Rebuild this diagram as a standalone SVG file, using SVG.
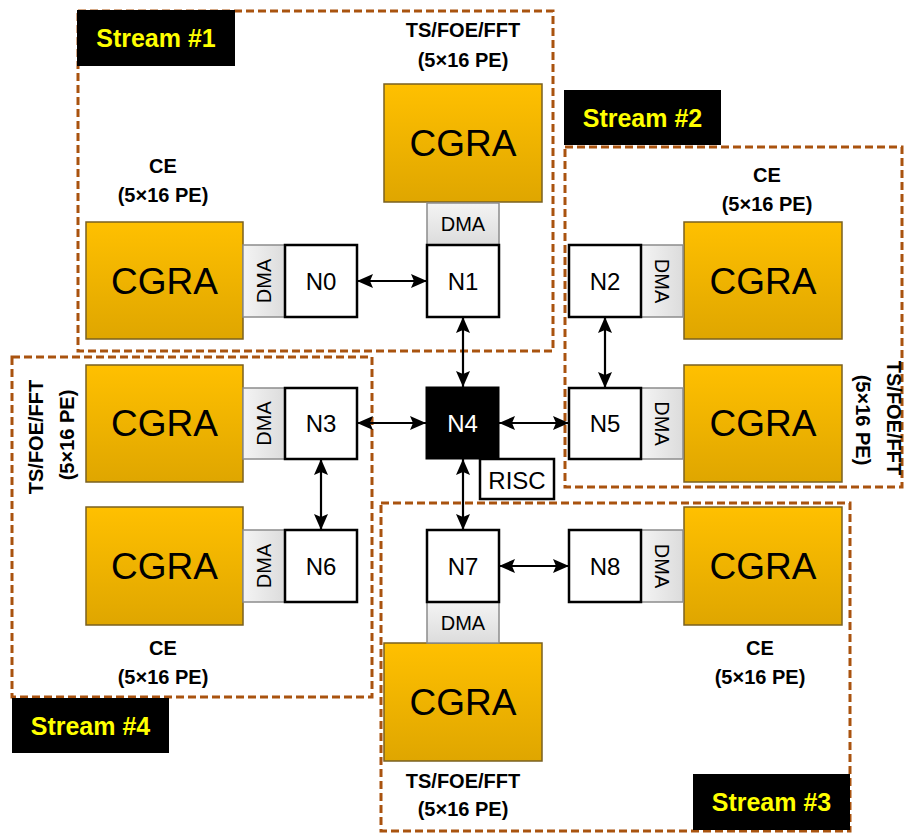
<svg xmlns="http://www.w3.org/2000/svg" width="906" height="834" viewBox="0 0 906 834">
<defs>
<linearGradient id="gold" x1="0" y1="0" x2="0" y2="1">
<stop offset="0" stop-color="#FFC000"/>
<stop offset="1" stop-color="#DFA600"/>
</linearGradient>
<linearGradient id="dmaV" x1="0" y1="0" x2="0" y2="1">
<stop offset="0" stop-color="#F4F4F4"/>
<stop offset="1" stop-color="#DCDCDC"/>
</linearGradient>
<linearGradient id="dmaH" x1="0" y1="0" x2="1" y2="0">
<stop offset="0" stop-color="#F4F4F4"/>
<stop offset="1" stop-color="#DCDCDC"/>
</linearGradient>
<marker id="ah" viewBox="0 0 16 14" refX="16" refY="7" markerWidth="16" markerHeight="14" markerUnits="userSpaceOnUse" orient="auto-start-reverse">
<path d="M0,0 L16,7 L0,14 L3,7 Z" fill="#000"/>
</marker>
</defs>
<style>
.stream{fill:none;stroke:#A9530F;stroke-width:3;stroke-dasharray:8 4}
.lbl rect{fill:#000}
.lbl text{fill:#FFFF00;font-family:"Liberation Sans",Arial,sans-serif;font-weight:bold;font-size:25px;text-anchor:middle;dominant-baseline:central}
.cgra rect{fill:url(#gold);stroke:#7A6020;stroke-width:1.5}
.cgra text{font-family:"Liberation Sans",Arial,sans-serif;font-size:37px;text-anchor:middle;dominant-baseline:central;fill:#000}
.dma rect{stroke:#8C8C8C;stroke-width:1.5}
.dma text{font-family:"Liberation Sans",Arial,sans-serif;font-size:20px;text-anchor:middle;dominant-baseline:central;fill:#000}
.node rect{fill:#fff;stroke:#000;stroke-width:2.5}
.node text{font-family:"Liberation Sans",Arial,sans-serif;font-size:24px;text-anchor:middle;dominant-baseline:central;fill:#000}
.cap{font-family:"Liberation Sans",Arial,sans-serif;font-weight:bold;font-size:20px;text-anchor:middle;dominant-baseline:central;fill:#000}
.conn line{stroke:#000;stroke-width:2.2;marker-start:url(#ah);marker-end:url(#ah)}
</style>
<rect width="906" height="834" fill="#fff"/>

<!-- stream boundaries -->
<g id="streams">
<rect class="stream" x="78" y="11" width="475" height="340"/>
<rect class="stream" x="565" y="147" width="337" height="340"/>
<rect class="stream" x="12" y="357" width="360" height="340"/>
<rect class="stream" x="381" y="503" width="469" height="328"/>
</g>

<!-- CGRA blocks -->
<g id="cgra0" class="cgra"><rect x="86" y="222" width="157" height="117"/><text x="164.5" y="281">CGRA</text></g>
<g id="cgra1" class="cgra"><rect x="384" y="84" width="158" height="118"/><text x="463" y="143">CGRA</text></g>
<g id="cgra2" class="cgra"><rect x="684" y="222" width="158" height="117"/><text x="763" y="281">CGRA</text></g>
<g id="cgra5" class="cgra"><rect x="684" y="365" width="158" height="117"/><text x="763" y="423">CGRA</text></g>
<g id="cgra3" class="cgra"><rect x="86" y="365" width="157" height="117"/><text x="164.5" y="423">CGRA</text></g>
<g id="cgra6" class="cgra"><rect x="86" y="507" width="157" height="118"/><text x="164.5" y="566">CGRA</text></g>
<g id="cgra8" class="cgra"><rect x="684" y="507" width="158" height="118"/><text x="763" y="566">CGRA</text></g>
<g id="cgra7" class="cgra"><rect x="384" y="643" width="158" height="118"/><text x="463" y="702">CGRA</text></g>

<!-- DMA blocks -->
<g id="dma0" class="dma"><rect x="243" y="245" width="42" height="72" fill="url(#dmaH)"/><text transform="translate(264,281) rotate(-90)">DMA</text></g>
<g id="dma1" class="dma"><rect x="427" y="203" width="72" height="42" fill="url(#dmaV)"/><text x="463" y="224">DMA</text></g>
<g id="dma2" class="dma"><rect x="641" y="245" width="42" height="72" fill="url(#dmaH)"/><text transform="translate(662,281) rotate(90)">DMA</text></g>
<g id="dma5" class="dma"><rect x="641" y="388" width="42" height="71" fill="url(#dmaH)"/><text transform="translate(662,423.5) rotate(90)">DMA</text></g>
<g id="dma3" class="dma"><rect x="243" y="388" width="42" height="71" fill="url(#dmaH)"/><text transform="translate(264,423.5) rotate(-90)">DMA</text></g>
<g id="dma6" class="dma"><rect x="243" y="530" width="42" height="72" fill="url(#dmaH)"/><text transform="translate(264,566) rotate(-90)">DMA</text></g>
<g id="dma8" class="dma"><rect x="641" y="530" width="42" height="72" fill="url(#dmaH)"/><text transform="translate(662,566) rotate(90)">DMA</text></g>
<g id="dma7" class="dma"><rect x="427" y="602" width="72" height="41" fill="url(#dmaV)"/><text x="463" y="623">DMA</text></g>

<!-- RISC -->
<g id="risc" class="node"><rect x="480" y="459" width="74" height="40"/><text x="517" y="480" font-size="27">RISC</text></g>

<!-- Nodes -->
<g id="n0" class="node"><rect x="285" y="245" width="72" height="72"/><text x="321" y="281">N0</text></g>
<g id="n1" class="node"><rect x="427" y="245" width="72" height="72"/><text x="463" y="281">N1</text></g>
<g id="n2" class="node"><rect x="569" y="245" width="72" height="72"/><text x="605" y="281">N2</text></g>
<g id="n3" class="node"><rect x="285" y="388" width="72" height="71"/><text x="321" y="423.5">N3</text></g>
<g id="n4"><rect x="426" y="387" width="73" height="72" fill="#000" stroke="#000" stroke-width="1"/><text x="462.5" y="423" font-family="Liberation Sans, Arial, sans-serif" font-size="24" text-anchor="middle" dominant-baseline="central" fill="#fff">N4</text></g>
<g id="n5" class="node"><rect x="569" y="388" width="72" height="71"/><text x="605" y="423.5">N5</text></g>
<g id="n6" class="node"><rect x="285" y="530" width="72" height="72"/><text x="321" y="566">N6</text></g>
<g id="n7" class="node"><rect x="427" y="530" width="72" height="72"/><text x="463" y="566">N7</text></g>
<g id="n8" class="node"><rect x="569" y="530" width="72" height="72"/><text x="605" y="566">N8</text></g>

<!-- connectors -->
<g id="connectors" class="conn">
<line x1="357" y1="281" x2="427" y2="281"/>
<line x1="463" y1="317" x2="463" y2="387"/>
<line x1="357" y1="423" x2="426" y2="423"/>
<line x1="499" y1="423" x2="569" y2="423"/>
<line x1="463" y1="459" x2="463" y2="530"/>
<line x1="605" y1="317" x2="605" y2="388"/>
<line x1="321" y1="459" x2="321" y2="530"/>
<line x1="499" y1="566" x2="569" y2="566"/>
</g>

<!-- captions -->
<g id="captions">
<text class="cap" x="463" y="30">TS/FOE/FFT</text>
<text class="cap" x="463" y="60">(5×16 PE)</text>
<text class="cap" x="163" y="166">CE</text>
<text class="cap" x="163" y="195">(5×16 PE)</text>
<text class="cap" x="767" y="175">CE</text>
<text class="cap" x="767" y="204">(5×16 PE)</text>
<text class="cap" transform="translate(894,418) rotate(90)">TS/FOE/FFT</text>
<text class="cap" transform="translate(863,420) rotate(90)">(5×16 PE)</text>
<text class="cap" transform="translate(36,437) rotate(-90)">TS/FOE/FFT</text>
<text class="cap" transform="translate(67,435) rotate(-90)">(5×16 PE)</text>
<text class="cap" x="163" y="648">CE</text>
<text class="cap" x="163" y="677">(5×16 PE)</text>
<text class="cap" x="760" y="648">CE</text>
<text class="cap" x="760" y="677">(5×16 PE)</text>
<text class="cap" x="463" y="781">TS/FOE/FFT</text>
<text class="cap" x="463" y="809">(5×16 PE)</text>
</g>

<!-- stream labels -->
<g id="stream1" class="lbl"><rect x="77" y="10" width="158" height="56"/><text x="156" y="38">Stream #1</text></g>
<g id="stream2" class="lbl"><rect x="564" y="90" width="157" height="55"/><text x="642.5" y="117.5">Stream #2</text></g>
<g id="stream4" class="lbl"><rect x="12" y="698" width="157" height="55"/><text x="90.5" y="725.5">Stream #4</text></g>
<g id="stream3" class="lbl"><rect x="693" y="774" width="157" height="56"/><text x="771.5" y="802">Stream #3</text></g>
</svg>
